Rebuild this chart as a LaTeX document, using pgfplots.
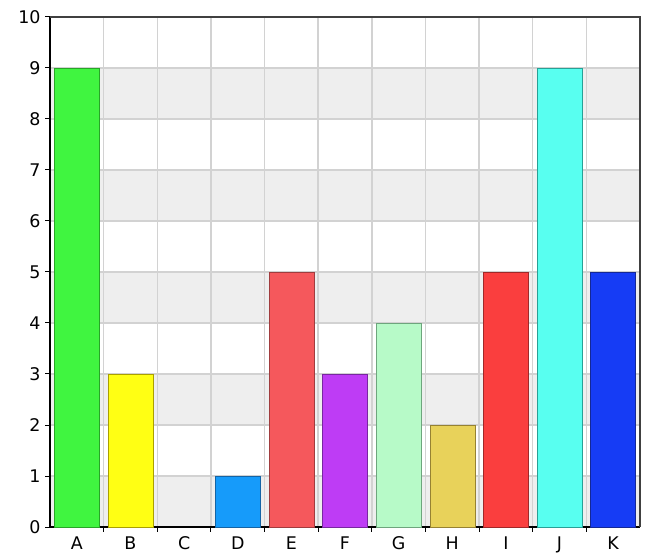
\documentclass[border=0pt]{standalone}
\usepackage{fontspec}
\setmainfont{DejaVu Sans}
\usepackage{pgfplots}
\pgfplotsset{compat=1.18}

\definecolor{cA}{RGB}{64,245,64}   \definecolor{bA}{RGB}{40,165,40}
\definecolor{cB}{RGB}{255,255,20}  \definecolor{bB}{RGB}{170,160,0}
\definecolor{cD}{RGB}{22,155,250}  \definecolor{bD}{RGB}{20,100,165}
\definecolor{cE}{RGB}{245,88,92}   \definecolor{bE}{RGB}{160,60,62}
\definecolor{cF}{RGB}{190,60,245}  \definecolor{bF}{RGB}{120,40,160}
\definecolor{cG}{RGB}{183,250,200} \definecolor{bG}{RGB}{110,165,125}
\definecolor{cH}{RGB}{232,210,90}  \definecolor{bH}{RGB}{150,130,50}
\definecolor{cI}{RGB}{250,62,62}   \definecolor{bI}{RGB}{160,40,40}
\definecolor{cJ}{RGB}{88,255,240}  \definecolor{bJ}{RGB}{40,160,150}
\definecolor{cK}{RGB}{22,60,245}   \definecolor{bK}{RGB}{20,40,150}
\definecolor{band}{RGB}{238,238,238}
\definecolor{gridc}{RGB}{210,210,210}

\begin{document}
\begin{tikzpicture}
\begin{axis}[
    set layers=standard,
    scale only axis,
    width=590bp, height=510bp,
    xmin=-0.5, xmax=10.5,
    ymin=0, ymax=10,
    ybar, bar width=45bp,
    every bar/.append style={line width=0.9pt},
    tick label style={font=\fontsize{17.5}{20}\selectfont},
    /pgf/number format/assume math mode=true,
    ytick={0,1,...,10},
    xtick={0.5,1.5,...,9.5},
    xticklabels={},
    extra x ticks={0,1,...,10},
    extra x tick labels={A,B,C,D,E,F,G,H,I,J,K},
    extra x tick style={grid=none, major tick length=0pt,
        tick label style={yshift=-6bp}},
    xtick pos=left, ytick pos=left,
    tick align=outside,
    major tick length=5bp,
    tick style={black, line width=1pt},
    grid=major,
    major grid style={gridc, line width=1.4pt},
    axis line style={line width=1.5pt},
    axis x line*=bottom, axis y line*=left,
    yticklabel style={xshift=-1bp},
    clip=false,
]
\begin{pgfonlayer}{axis background}
  \pgfplotsinvokeforeach{0,2,4,6,8}{
    \fill[band] (axis cs:-0.5,#1) rectangle (axis cs:10.5,#1+1);
  }
\end{pgfonlayer}
\draw[black!75, line width=1.5pt] (rel axis cs:0,1) -- (rel axis cs:1,1) -- (rel axis cs:1,0);
\draw[black!15, line width=2pt] (rel axis cs:1,0) ++(2bp,0) -- ++(0,505bp);

\addplot[bar shift=0pt, fill=cA, draw=bA] coordinates {(0,9)};
\addplot[bar shift=0pt, fill=cB, draw=bB] coordinates {(1,3)};
\addplot[bar shift=0pt, fill=cD, draw=bD] coordinates {(3,1)};
\addplot[bar shift=0pt, fill=cE, draw=bE] coordinates {(4,5)};
\addplot[bar shift=0pt, fill=cF, draw=bF] coordinates {(5,3)};
\addplot[bar shift=0pt, fill=cG, draw=bG] coordinates {(6,4)};
\addplot[bar shift=0pt, fill=cH, draw=bH] coordinates {(7,2)};
\addplot[bar shift=0pt, fill=cI, draw=bI] coordinates {(8,5)};
\addplot[bar shift=0pt, fill=cJ, draw=bJ] coordinates {(9,9)};
\addplot[bar shift=0pt, fill=cK, draw=bK] coordinates {(10,5)};
\end{axis}
\pgfresetboundingbox
\path ([shift={(-50bp,-27bp)}]current axis.south west) rectangle ([shift={(7bp,17bp)}]current axis.north east);
\end{tikzpicture}
\end{document}
